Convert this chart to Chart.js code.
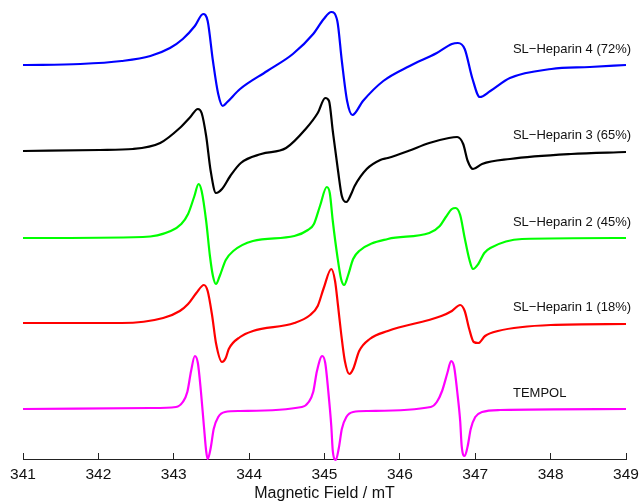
<!DOCTYPE html>
<html>
<head>
<meta charset="utf-8">
<style>
  html, body { margin: 0; padding: 0; background: #fff; }
  canvas { display: block; }
</style>
<script src="https://cdn.jsdelivr.net/npm/chart.js@4/dist/chart.umd.min.js"></script>
</head>
<body>
<canvas id="epr" width="640" height="501"></canvas>
<script>
// spectra: field in mT, signal in a.u. (relative to each trace's baseline)
const fieldTicks = [341, 342, 343, 344, 345, 346, 347, 348, 349];

const tempolField = [341.00, 342.69, 343.03, 343.12, 343.18, 343.23, 343.28, 343.32, 343.36, 343.40, 343.43, 343.45, 343.49, 343.53, 343.59, 343.68, 343.88,
    344.70, 344.79, 344.85, 344.90, 344.97, 345.01, 345.05, 345.09, 345.11, 345.15, 345.19, 345.23, 345.29, 345.38, 345.58,
    346.41, 346.49, 346.56, 346.63, 346.68, 346.72, 346.76, 346.80, 346.82, 346.86, 346.90, 346.94, 347.00, 347.09, 347.33, 349.00];
const tempolSignal = [0, 0.1, 0.2, 0.7, 1.7, 3.8, 5.3, 4.6, 1.8, -1.7, -4.2, -5.0, -3.9, -2.0, -0.8, -0.3, -0.2,
    0.2, 0.7, 1.7, 3.8, 5.3, 4.6, 1.8, -1.7, -4.2, -5.1, -3.9, -2.0, -0.8, -0.3, -0.2,
    0.2, 0.7, 1.8, 3.6, 4.8, 4.2, 1.8, -1.2, -3.7, -4.7, -3.7, -2.0, -0.8, -0.3, -0.1, 0];

const hep1Field = [341.00, 342.31, 342.86, 343.08, 343.19, 343.30, 343.40, 343.45, 343.51, 343.56, 343.64, 343.69, 343.73, 343.88, 344.05,
    344.60, 344.81, 344.91, 344.99, 345.09, 345.14, 345.18, 345.22, 345.27, 345.33, 345.38, 345.46, 345.60, 345.84,
    346.55, 346.69, 346.80, 346.86, 346.92, 346.98, 347.04, 347.13, 347.30, 348.00, 349.00];
const hep1Signal = [0, 0, 0.5, 1.2, 1.9, 3.0, 3.8, 3.2, 0.7, -2.0, -3.9, -3.5, -2.6, -1.4, -0.8,
    0, 0.8, 1.7, 3.5, 5.4, 4.2, 1.7, -1.0, -3.8, -5.1, -4.6, -2.8, -1.6, -0.8,
    0.7, 1.2, 1.8, 1.2, -0.6, -1.9, -2.0, -1.3, -0.8, -0.2, -0.1];

const hep2Field = [341.00, 342.59, 342.96, 343.10, 343.19, 343.27, 343.33, 343.37, 343.43, 343.48, 343.52, 343.56, 343.61, 343.69, 343.79, 344.05,
    344.60, 344.78, 344.86, 344.94, 345.03, 345.07, 345.11, 345.17, 345.22, 345.26, 345.31, 345.38, 345.46, 345.84,
    346.39, 346.53, 346.61, 346.69, 346.74, 346.80, 346.86, 346.92, 346.97, 347.04, 347.12, 347.20, 347.62, 349.00];
const hep2Signal = [0, 0.1, 0.7, 1.4, 2.4, 4.1, 5.4, 4.7, 1.7, -1.8, -3.8, -4.6, -3.8, -2.2, -1.3, -0.3,
    0.2, 0.8, 1.4, 3.2, 5.1, 4.5, 1.7, -1.8, -4.1, -4.7, -3.8, -2.1, -1.3, -0.1,
    0.5, 1.2, 2.1, 2.9, 3.0, 2.3, 0, -2.1, -3.1, -2.6, -1.5, -1.0, -0.1, 0];

const hep3Field = [341.00, 342.02, 342.46, 342.82, 343.08, 343.22, 343.32, 343.37, 343.43, 343.49, 343.56, 343.64, 343.75, 343.89, 344.16,
    344.49, 344.75, 344.91, 345.01, 345.06, 345.11, 345.18, 345.23, 345.29, 345.36, 345.40, 345.56, 345.74, 345.84,
    346.11, 346.39, 346.65, 346.76, 346.84, 346.90, 346.97, 347.09, 347.46, 348.27, 349.00];
const hep3Signal = [0, 0.1, 0.2, 0.8, 2.3, 3.4, 4.2, 3.8, 1.5, -2.0, -4.2, -3.8, -2.5, -1.2, -0.3,
    0.3, 2.2, 3.8, 5.3, 5.0, 2.0, -2.0, -4.5, -5.1, -4.2, -3.5, -1.8, -0.9, -0.7,
    0, 0.8, 1.3, 1.4, 0.7, -1.0, -1.8, -1.3, -0.8, -0.3, -0.1];

const hep4Field = [341.00, 341.76, 342.31, 342.69, 342.95, 343.12, 343.28, 343.39, 343.45, 343.52, 343.59, 343.65, 343.71, 343.88, 344.24,
    344.58, 344.85, 344.99, 345.09, 345.17, 345.23, 345.30, 345.37, 345.51, 345.78,
    346.13, 346.49, 346.69, 346.77, 346.86, 346.96, 347.06, 347.20, 347.46, 348.01, 348.52, 349.00];
const hep4Signal = [0, 0.1, 0.4, 0.9, 1.7, 2.6, 3.9, 5.1, 4.4, 0.4, -2.9, -4.1, -3.7, -2.4, -0.6,
    1.1, 3.1, 4.6, 5.3, 4.4, 0.4, -3.6, -5.0, -3.6, -1.6,
    -0.1, 1.2, 2.1, 2.2, 1.6, -1.3, -3.2, -2.6, -1.3, -0.4, -0.2, 0];

// bottom to top
const sampleNames = ["TEMPOL", "SL\u2212Heparin 1 (18%)", "SL\u2212Heparin 2 (45%)", "SL\u2212Heparin 3 (65%)", "SL\u2212Heparin 4 (72%)"];
const sampleFields = [tempolField, hep1Field, hep2Field, hep3Field, hep4Field];
const sampleSignals = [tempolSignal, hep1Signal, hep2Signal, hep3Signal, hep4Signal];
const stackOffsets = [5.0, 13.6, 22.1, 30.8, 39.4];
const labelField = 347.5;
const labelLift = 1.6;

const colors = ["#ff00ff", "#ff0000", "#00ff00", "#000000", "#0000ff"];

const datasets = sampleNames.map((name, i) => ({
    label: name,
    data: sampleFields[i].map((b, j) => ({ x: b, y: sampleSignals[i][j] + stackOffsets[i] })),
    borderColor: colors[i],
    borderWidth: 2.2,
    pointRadius: 0,
    fill: false,
    cubicInterpolationMode: "monotone",
    clip: 6
}));

const traceLabels = {
    id: "traceLabels",
    afterDatasetsDraw(chart) {
        const { ctx, scales } = chart;
        ctx.save();
        ctx.font = "13px 'Liberation Sans', Arial, sans-serif";
        ctx.fillStyle = "#111";
        ctx.textAlign = "left";
        ctx.textBaseline = "middle";
        sampleNames.forEach((name, i) => {
            ctx.fillText(name, scales.x.getPixelForValue(labelField), scales.y.getPixelForValue(stackOffsets[i] + labelLift));
        });
        ctx.restore();
    }
};

new Chart(document.getElementById("epr"), {
    type: "line",
    data: { datasets },
    options: {
        responsive: false,
        animation: false,
        layout: { padding: { left: 23, right: 14, top: 0, bottom: 0 } },
        plugins: {
            legend: { display: false },
            tooltip: { enabled: false }
        },
        scales: {
            x: {
                type: "linear",
                min: 341,
                max: 349,
                afterBuildTicks: (axis) => { axis.ticks = fieldTicks.map(v => ({ value: v })); },
                afterFit: (axis) => {
                    axis.height = 42;
                    axis.paddingLeft = 0;
                    axis.paddingRight = 0;
                },
                border: { display: true, color: "#222", width: 1 },
                grid: { display: true, drawOnChartArea: false, drawTicks: true, tickLength: -6, color: "#222" },
                ticks: {
                    padding: 12,
                    color: "#111",
                    font: { family: "'Liberation Sans', Arial, sans-serif", size: 15.5 }
                },
                title: {
                    display: true,
                    text: "Magnetic Field / mT",
                    color: "#111",
                    padding: { top: 0, bottom: -2 },
                    font: { family: "'Liberation Sans', Arial, sans-serif", size: 16 }
                }
            },
            y: {
                display: false,
                min: 0,
                max: 45.9
            }
        }
    },
    plugins: [traceLabels]
});
</script>
</body>
</html>
